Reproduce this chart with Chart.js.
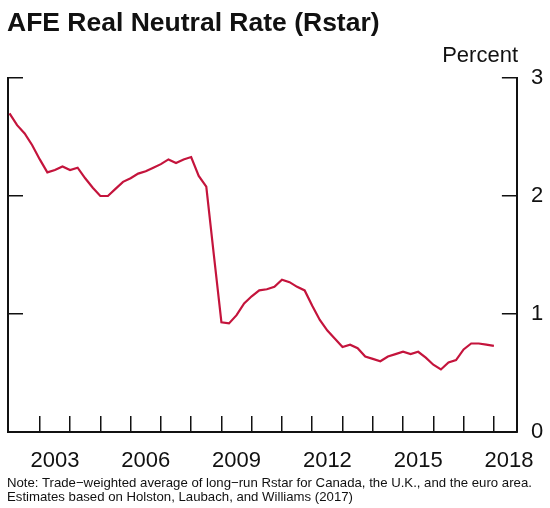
<!DOCTYPE html>
<html><head><meta charset="utf-8">
<script src="https://cdn.jsdelivr.net/npm/chart.js@4/dist/chart.umd.min.js"></script>
<style>
html,body{margin:0;padding:0;background:#fff;}
#wrap{position:relative;width:550px;height:508px;font-family:"Liberation Sans",Arial,sans-serif;color:#111;}
canvas{position:absolute;left:0;top:0;}
#title{position:absolute;left:7px;top:7px;font-weight:bold;font-size:26.5px;white-space:nowrap;}
#unit{position:absolute;right:32px;top:42px;font-size:22px;white-space:nowrap;}
#note{position:absolute;left:7px;top:476px;font-size:13.2px;line-height:14px;white-space:nowrap;}
</style></head>
<body><div id="wrap"><canvas id="c" width="550" height="508"></canvas>
<div id="title">AFE Real Neutral Rate (Rstar)</div>
<div id="unit">Percent</div>
<div id="note">Note: Trade−weighted average of long−run Rstar for Canada, the U.K., and the euro area.<br>Estimates based on Holston, Laubach, and Williams (2017)</div>
</div>
<script>
// Quarterly, starting 2002Q1
const startYear = 2002;
const rstar = [
  2.70, 2.60, 2.53, 2.43,
  2.31, 2.20, 2.22, 2.25,
  2.22, 2.24, 2.15, 2.07,
  2.00, 2.00, 2.06, 2.12,
  2.15, 2.19, 2.21, 2.24,
  2.27, 2.31, 2.28, 2.31,
  2.33, 2.17, 2.08, 1.50,
  0.93, 0.92, 0.99, 1.09,
  1.15, 1.20, 1.21, 1.23,
  1.29, 1.27, 1.23, 1.20,
  1.07, 0.95, 0.86, 0.79,
  0.72, 0.74, 0.71, 0.64,
  0.62, 0.60, 0.64, 0.66,
  0.68, 0.66, 0.68, 0.63,
  0.57, 0.53, 0.59, 0.61,
  0.70, 0.75, 0.75, 0.74,
  0.73
];
const dates = rstar.map((v, i) => startYear + i * 0.25);
const tickYears = [2003,2004,2005,2006,2007,2008,2009,2010,2011,2012,2013,2014,2015,2016,2017,2018];
const tickLabels = ['2003','2006','2009','2012','2015','2018'];
const yTicks = [0,1,2,3];

const xMin = 2001.95, xMax = 2018.76;
const black = '#111';
const font = {family:'"Liberation Sans", Arial, sans-serif', size:22};

new Chart(document.getElementById('c'), {
  type:'line',
  data:{datasets:[{
    data: dates.map((d,i)=>({x:d, y:rstar[i]})),
    borderColor:'#C4143C', borderWidth:2.2, pointRadius:0, tension:0,
    xAxisID:'x', yAxisID:'y2'
  }]},
  options:{
    responsive:false, animation:false, devicePixelRatio:1,
    layout:{padding:{left:8, top:78, right:0, bottom:30}},
    plugins:{legend:{display:false}, tooltip:{enabled:false}},
    scales:{
      x:{type:'linear', position:'bottom', min:xMin, max:xMax, weight:0,
         afterBuildTicks:s=>{ s.ticks = tickYears.map(v=>({value:v})); },
         ticks:{display:false},
         grid:{drawOnChartArea:false, drawTicks:true, tickLength:-16, color:black, lineWidth:1.5},
         border:{display:true, color:black, width:2},
         afterFit:s=>{ s.height = 0; }},
      xl:{type:'linear', position:'bottom', min:xMin, max:xMax, weight:1,
         afterBuildTicks:s=>{ s.ticks = tickLabels.map(l=>({value:Number(l)+0.5})); },
         ticks:{callback:(v,i)=>tickLabels[i], font:font, color:black, padding:16, maxRotation:0, minRotation:0, autoSkip:false},
         grid:{display:false, drawTicks:false},
         border:{display:false},
         afterFit:s=>{ s.height = 46; }},
      y:{type:'linear', position:'left', min:0, max:3,
         afterBuildTicks:s=>{ s.ticks = yTicks.map(v=>({value:v})); },
         ticks:{display:false},
         grid:{drawOnChartArea:false, drawTicks:true, tickLength:-15, color:black, lineWidth:1.5},
         border:{display:true, color:black, width:2},
         afterFit:s=>{ s.width = 0; }},
      y2:{type:'linear', position:'right', min:0, max:3,
         afterBuildTicks:s=>{ s.ticks = yTicks.map(v=>({value:v})); },
         ticks:{font:font, color:black, padding:29, callback:v=>String(v)},
         grid:{drawOnChartArea:false, drawTicks:true, tickLength:-15, color:black, lineWidth:1.5},
         border:{display:true, color:black, width:2},
         afterFit:s=>{ s.width = 32; }}
    }
  }
});
</script>
</body></html>
